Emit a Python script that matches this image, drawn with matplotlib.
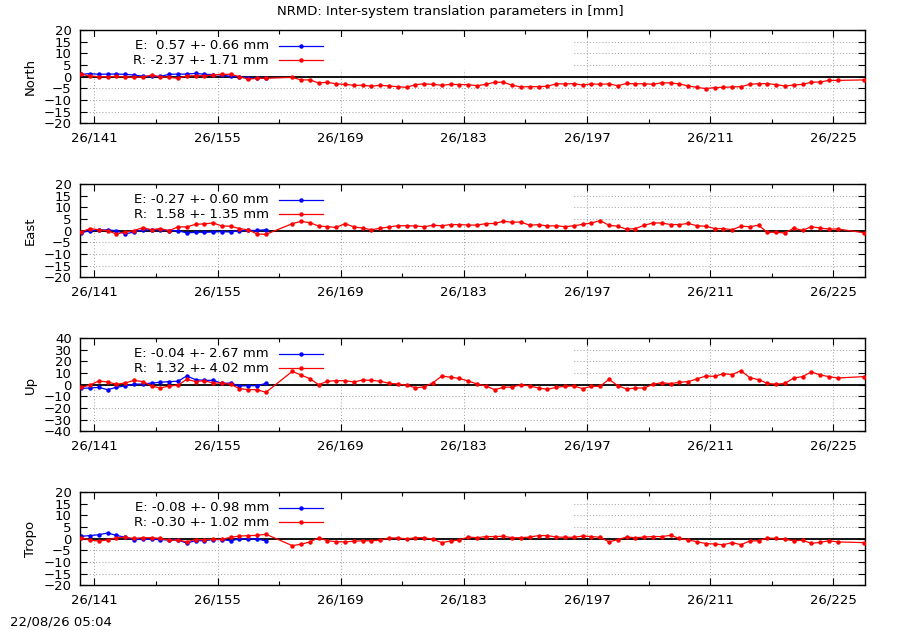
import numpy as np
import matplotlib
matplotlib.use("Agg")
import matplotlib.pyplot as plt
from matplotlib.patches import Rectangle
from matplotlib.ticker import FixedLocator, FuncFormatter

plt.rcParams['font.family'] = ['DejaVu Sans']
plt.rcParams['font.size'] = 9.5

# day of year 2026, daily solutions (plotted at noon)
doy_e = [139, 140, 141, 142, 143, 144, 145, 146, 147, 148, 149,
         150, 151, 152, 153, 154, 155, 156, 157, 158, 159, 160]
doy_r = doy_e + [163, 164, 165, 166, 167, 168, 169, 170, 171, 172,
                 173, 174, 175, 176, 177, 178, 179, 180, 181, 182,
                 183, 184, 185, 186, 187, 188, 189, 190, 191, 192,
                 193, 194, 195, 196, 197, 198, 199, 200, 201, 202,
                 203, 204, 205, 206, 207, 208, 209, 210, 211, 212,
                 213, 214, 215, 216, 217, 218, 219, 220, 221, 222,
                 223, 224, 225, 228]

panels = ["North", "East", "Up", "Tropo"]
ylims = [20, 20, 40, 20]
ysteps = [5, 5, 10, 5]

e_mean = [0.57, -0.27, -0.04, -0.08]
e_std = [0.66, 0.60, 2.67, 0.98]
r_mean = [-2.37, 1.58, 1.32, -0.30]
r_std = [1.71, 1.35, 4.02, 1.02]

north_e = [1.0, 1.3, 1.0, 1.1, 1.1, 1.0, 0.7, 0.2, 0.1, 0.1, 1.0,
           1.1, 1.1, 1.4, 1.0, 0.9, 0.7, 0.1, 0.0, -0.5, -0.7, -0.7]
north_r = [1.0, 0.3, 0.0, -0.1, 0.1, -0.1, -0.3, -0.1, 0.6, 0.0, -0.3,
           -0.7, 0.3, 0.4, 0.4, 0.7, 1.0, 1.0, 0.0, -1.1, -0.7, -0.7,
           -0.3, -1.4, -1.4, -2.7, -2.4, -3.1, -3.3, -3.7, -3.7, -4.1,
           -3.7, -4.0, -4.3, -4.6, -3.4, -3.1, -3.3,
           -3.7, -3.3, -3.4, -3.4, -3.9, -3.3, -2.4, -2.4, -3.7, -4.4,
           -4.3, -4.3, -4.1, -3.1, -3.1, -3.0, -3.6, -3.1, -3.3, -3.1,
           -3.9, -2.9, -3.1, -3.0, -3.3, -2.6, -2.7, -3.1, -4.0, -4.6,
           -5.1, -4.7, -4.6, -4.4, -4.3, -3.3, -3.0, -3.0, -3.4, -4.0,
           -3.6, -3.3, -2.4, -2.3, -1.6, -1.6, -1.4]

east_e = [-0.9, 0.0, 0.3, 0.3, 0.0, -1.4, -0.6, 0.4, 0.3, 0.4, 0.0,
          0.0, -1.0, -0.7, -0.7, -0.6, -0.4, -0.6, 0.0, 0.1, 0.1, 0.4]
east_r = [-0.6, 0.9, 0.4, 0.0, -1.4, -0.6, 0.0, 1.3, 0.4, 0.9, 0.0,
          1.6, 1.6, 2.7, 2.9, 3.3, 2.0, 1.9, 0.9, 0.3, -1.4, -1.6,
          3.0, 4.0, 3.4, 2.0, 1.7, 1.4, 3.0, 1.6, 1.1, 0.4,
          1.0, 1.6, 2.1, 2.1, 2.0, 1.7, 2.3, 2.1, 2.6, 2.6,
          2.4, 2.4, 3.0, 3.1, 4.0, 3.6, 3.7, 2.3, 2.6, 2.0,
          2.1, 1.7, 2.1, 2.7, 3.3, 4.3, 2.3, 1.9, 0.6, 0.9,
          2.3, 3.3, 3.3, 2.6, 2.6, 3.1, 2.1, 1.9, 0.9, 0.9,
          0.4, 1.9, 1.7, 2.3, -0.7, -0.7, -1.0, 1.1, 0.1, 1.7,
          1.1, 0.7, 0.7, -0.9]

up_e = [-3.1, -2.9, -2.3, -4.3, -2.3, -1.1, 0.3, 0.6, 1.4, 2.0, 2.6,
        2.9, 7.4, 4.3, 3.7, 3.7, 1.1, 1.4, -1.1, -0.9, -0.9, 1.1]
up_r = [-2.3, -0.3, 3.1, 2.3, 0.3, 1.4, 3.7, 2.6, -1.1, -2.9, -1.1,
        -0.6, 4.6, 2.6, 3.4, 1.4, 1.4, 0.3, -3.4, -4.3, -4.3, -6.6,
        11.4, 8.3, 5.1, 0.0, 2.9, 3.4, 3.4, 2.3, 4.0, 3.7,
        2.9, 1.1, 0.6, -0.6, -2.6, -2.0, 1.7, 7.4, 6.3, 5.4,
        3.1, 0.6, -1.1, -4.3, -2.3, -2.0, 0.0, -1.1, -2.9, -4.0,
        -2.3, -1.4,
        -1.1, -3.4, -1.4, -1.4, 4.6, -0.9, -3.7, -2.9, -2.9, 0.3,
        1.7, 0.9, 2.0, 2.6, 4.9, 7.4, 7.1, 9.4, 8.6, 12.0,
        6.0, 4.3, 1.1, 0.3, 1.1, 5.7, 6.9, 10.9, 8.3, 6.9,
        5.7, 6.9]

tropo_e = [1.0, 1.3, 1.7, 2.4, 1.4, 0.6, -0.4, -0.3, -0.3, -0.4, -0.6,
           -0.6, -1.9, -0.9, -0.9, -0.4, -0.4, -0.9, -0.1, -0.1, -0.1, -1.0]
tropo_r = [0.4, -0.6, -1.0, -0.6, 0.4, 0.6, 0.1, 0.4, 0.4, 0.1, -0.7,
           -0.6, -1.3, -0.4, -0.4, -0.3, -0.3, 0.6, 1.1, 1.3, 1.4, 1.9,
           -3.0, -2.4, -1.4, 0.4, -0.9, -1.3, -1.4, -1.1, -0.9, -0.9,
           -0.7, 0.3, 0.3, -0.1, 0.4, 0.4, -0.3, -1.7, -1.0, -0.6,
           0.7, 0.4, 0.9, 0.9, 1.0, 0.4, 0.4, 0.7, 1.3, 1.3,
           0.7, 0.6, 0.6, 1.1, 0.9, 0.6,
           -1.4, -0.4, 0.7, 0.4, 0.7, 0.9, 0.9, 1.4, 0.1, -0.6,
           -1.3, -2.1, -2.3, -2.6, -1.7, -2.6, -1.0, -0.9, 0.3, 0.1,
           -0.3, -0.9, -0.7, -2.0, -1.6, -0.9, -1.4, -1.7]

e_data = [north_e, east_e, up_e, tropo_e]
r_data = [north_r, east_r, up_r, tropo_r]

major_days = [141, 155, 169, 183, 197, 211, 225]
minor_days = [148, 162, 176, 190, 204, 218]

W, H = 900, 630
left, right = 80, 865
ph = 93.3
tops = [30, 184, 338, 492]

fig = plt.figure(figsize=(9, 6.3), dpi=100)

t_e = np.array(doy_e) + 0.5
t_r = np.array(doy_r) + 0.5

for i, name in enumerate(panels):
    ax = fig.add_axes([left / W, 1 - (tops[i] + ph) / H, (right - left) / W, ph / H])
    ax.set_axisbelow(True)
    lim = ylims[i]
    ax.set_xlim(139.37, 228.6)
    ax.set_ylim(-lim, lim)
    ax.yaxis.set_major_locator(FixedLocator(np.arange(-lim, lim + 1, ysteps[i])))
    ax.xaxis.set_major_locator(FixedLocator(major_days))
    ax.xaxis.set_minor_locator(FixedLocator(minor_days))
    ax.xaxis.set_major_formatter(FuncFormatter(lambda v, p: "26/%d" % v))
    ax.tick_params(which='both', direction='in', top=True, right=True, width=0.8)
    ax.tick_params(which='major', length=5)
    ax.tick_params(which='minor', length=3)
    ax.tick_params(axis='x', pad=6)
    ax.tick_params(axis='y', pad=6)
    ax.grid(True, which='major', linestyle=(0, (1, 2)), color='#a8a8a8', lw=0.75)
    for sp in ax.spines.values():
        sp.set_linewidth(1.0)

    # opaque key area hides the grid
    ax.add_patch(Rectangle((7.5 / 785, 1 - 40 / ph), (493 - 7.5) / 785, 40 / ph - 7.5 / ph,
                           transform=ax.transAxes, facecolor='white',
                           edgecolor='none', zorder=1))
    ax.axhline(0, color='black', lw=1.3, zorder=1.5)

    ax.plot(t_e, e_data[i], '-o', color='#0000ff', lw=0.9, ms=3.2, mew=0, zorder=2)
    ax.plot(t_r, r_data[i], '-o', color='#ff0000', lw=0.9, ms=3.2, mew=0, zorder=3)

    # key: text on the left, sample on the right
    rows = [("E: %5.2f +- %4.2f mm" % (e_mean[i], e_std[i]), '#0000ff', 0.832),
            ("R: %5.2f +- %4.2f mm" % (r_mean[i], r_std[i]), '#ff0000', 0.675)]
    for txt, col, yy in rows:
        ax.text(0.2408, yy, txt, transform=ax.transAxes, ha='right', va='center', zorder=5)
        ax.plot([0.2535, 0.3096], [yy, yy], '-', color=col, lw=0.9,
                transform=ax.transAxes, zorder=5)
        ax.plot([0.2815], [yy], 'o', color=col, ms=3.2, mew=0,
                transform=ax.transAxes, zorder=5)

    ax.set_ylabel(name)
    ax.yaxis.set_label_coords(-0.0548, 0.5)

fig.text(0.5, 1 - 12 / H, "NRMD: Inter-system translation parameters in [mm]",
         ha='center', va='center')
fig.text(10 / W, 1 - 622 / H, "22/08/26 05:04", ha='left', va='center')

fig.savefig("out.png", dpi=100)
